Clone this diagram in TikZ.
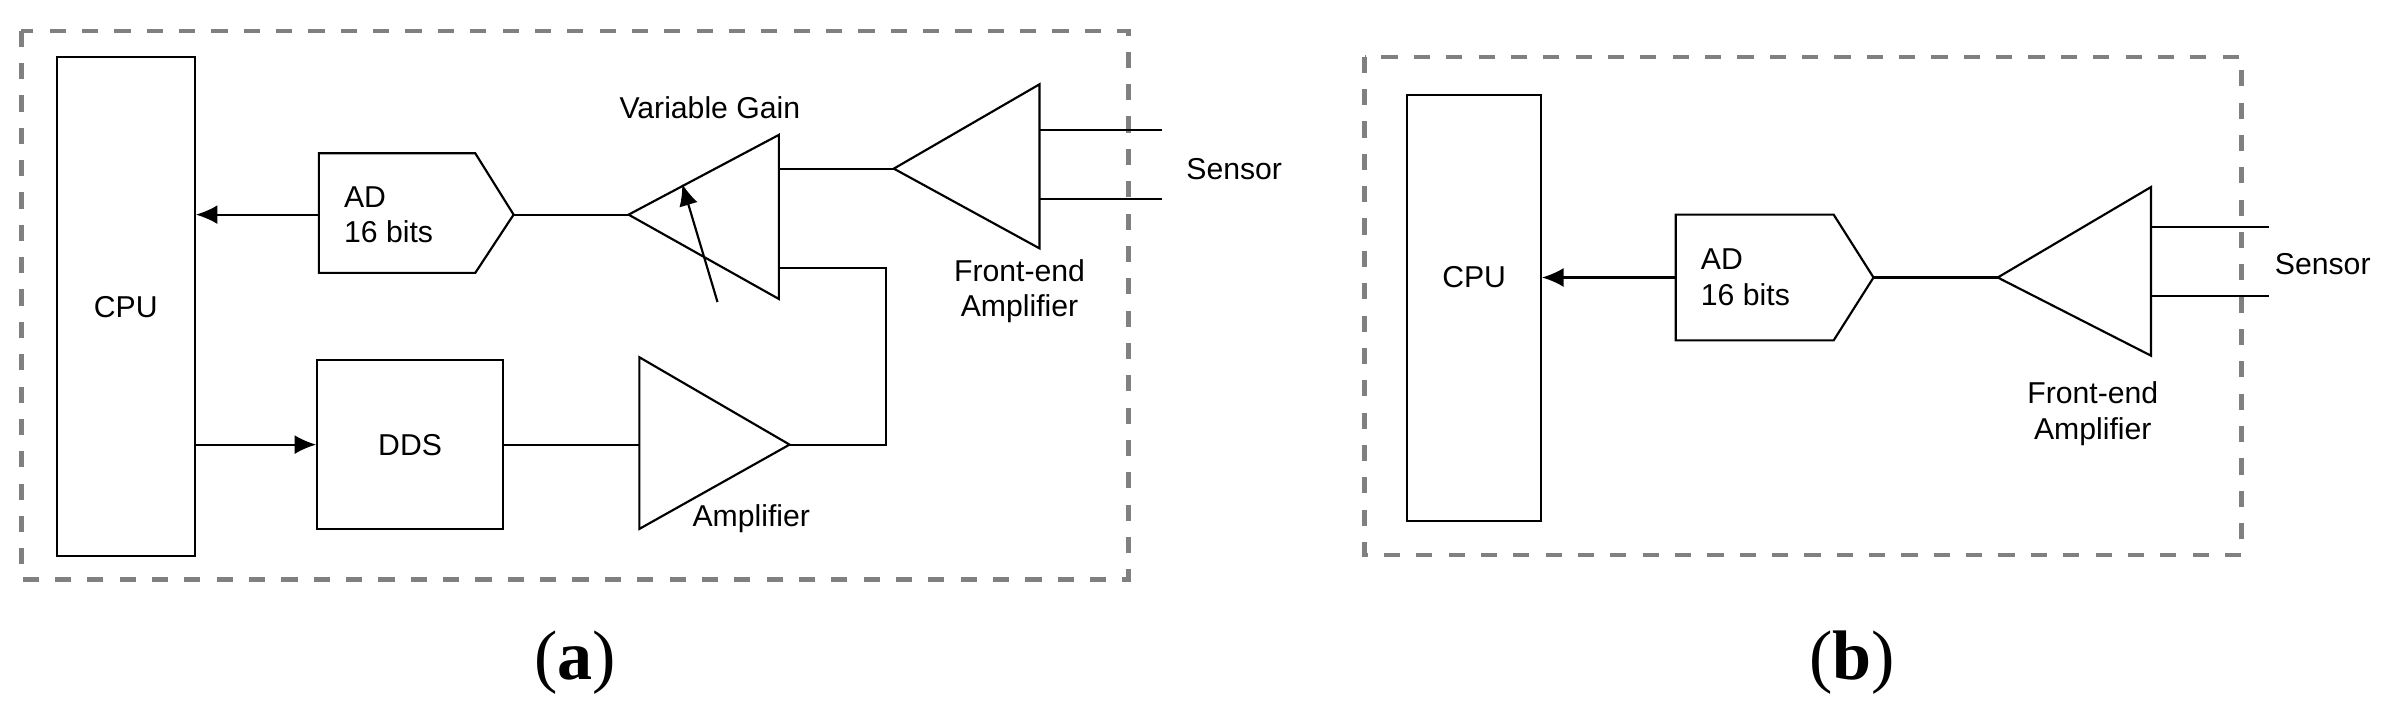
\documentclass[tikz,border=0pt]{standalone}
\usepackage{fontspec}
\setmainfont{Liberation Sans}
\newfontfamily\capfont{Liberation Serif}
\usetikzlibrary{arrows.meta}
\tikzset{
  blk/.style={draw, thin, inner sep=0pt},
  lbl/.style={font=\fontsize{5.6}{6.6}\selectfont, align=left},
  frame/.style={draw=gray, dashed, thick},
  arr/.style={-{Latex[length=4pt,width=3.5pt]}},
  panel/.style={font=\fontsize{13}{15}\selectfont\capfont}
}
\begin{document}
\begin{tikzpicture}[x=0.01cm, y=-0.01cm, thin]
  \useasboundingbox (0,0) rectangle (1568,470);
  % panel (a)
  \draw[frame] (14,20) rectangle (736,378);
  \node[blk, minimum width=0.9cm, minimum height=3.25cm] (cpuA) at (82,200) {};
  \node[lbl] at (82,200) {CPU};
  \node[blk, minimum width=1.21cm, minimum height=1.1cm] (ddsA) at (267.5,290) {};
  \node[lbl] at (267.5,290) {DDS};
  % AD converter
  \coordinate (adA-w) at (208,140);
  \coordinate (adA-e) at (335,140);
  \draw (208,100) -- (310,100) -- (adA-e) -- (310,178) -- (208,178) -- cycle;
  \node[lbl, anchor=west] at (212,140) {AD\\16 bits};
  % variable gain
  \coordinate (vgA-w) at (410,140);
  \coordinate (vgA-o1) at (508,110);
  \coordinate (vgA-o2) at (508,175);
  \draw (vgA-w) -- (508,88) -- (508,195) -- cycle;
  \draw[arr] (468,197) -- (445,120);
  \node[lbl] at (463,70) {Variable Gain};
  % front-end amplifier
  \coordinate (feA-w) at (583,110);
  \draw (feA-w) -- (678,55) -- (678,162) -- cycle;
  \coordinate (snA-1) at (758,85);
  \coordinate (snA-2) at (758,130);
  \draw (678,85) -- (snA-1);
  \draw (678,130) -- (snA-2);
  \node[lbl] at (805,110) {Sensor};
  \node[lbl, align=center] at (665,190) {Front-end\\Amplifier};
  % amplifier
  \coordinate (amA-w) at (417,290);
  \coordinate (amA-e) at (515,290);
  \draw (417,233) -- (amA-e) -- (417,345) -- cycle;
  \node[lbl] at (490,338) {Amplifier};
  % connections
  \draw[arr] (adA-w) -- (adA-w -| cpuA.east);
  \draw (adA-e) -- (vgA-w);
  \draw (vgA-o1) -- (feA-w);
  \draw (vgA-o2) -- (578,175) -- (578,290) -- (amA-e);
  \draw[arr] (cpuA.east |- ddsA) -- (ddsA.west);
  \draw (ddsA.east) -- (amA-w);
  \node[panel] at (375,432) {(\textbf{a})};
  % panel (b)
  \draw[frame] (890,37) rectangle (1462,362);
  \node[blk, minimum width=0.87cm, minimum height=2.78cm] (cpuB) at (961.5,201) {};
  \node[lbl] at (961.5,181) {CPU};
  \coordinate (adB-w) at (1093,181);
  \coordinate (adB-e) at (1222,181);
  \draw (1093,140) -- (1196,140) -- (adB-e) -- (1196,222) -- (1093,222) -- cycle;
  \node[lbl, anchor=west] at (1097,181) {AD\\16 bits};
  \coordinate (feB-w) at (1303,181);
  \draw (feB-w) -- (1403,122) -- (1403,232) -- cycle;
  \coordinate (snB-1) at (1480,148);
  \coordinate (snB-2) at (1480,193);
  \draw (1403,148) -- (snB-1);
  \draw (1403,193) -- (snB-2);
  \node[lbl] at (1515,172) {Sensor};
  \node[lbl, align=center] at (1365,270) {Front-end\\Amplifier};
  \draw[arr] (adB-w) -- (adB-w -| cpuB.east);
  \draw (adB-e) -- (feB-w);
  \node[panel] at (1208,432) {(\textbf{b})};
\end{tikzpicture}
\end{document}
